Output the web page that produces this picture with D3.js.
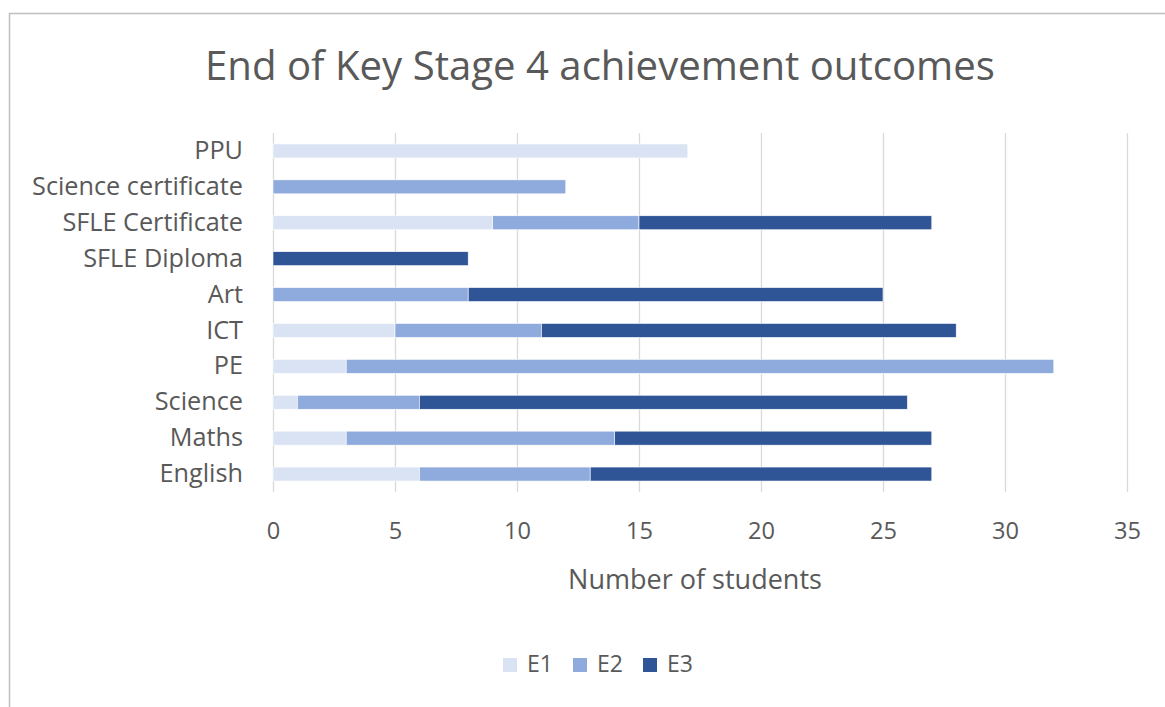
<!DOCTYPE html>
<html><head><meta charset="utf-8">
<script src="https://cdn.jsdelivr.net/npm/d3@7"></script>
<style>
html,body{margin:0;padding:0;background:#fff;}
svg{display:block;font-family:"Open Sans",sans-serif;}
</style></head>
<body>
<svg id="chart" width="1165" height="707"></svg>
<script>
const categories = ["English","Maths","Science","PE","ICT","Art","SFLE Diploma","SFLE Certificate","Science certificate","PPU"];
const seriesNames = ["E1","E2","E3"];
const E1 = [6,3,1,3,5,0,0,9,0,17];
const E2 = [7,11,5,29,6,8,0,6,12,0];
const E3 = [14,13,20,0,17,17,8,12,0,0];
const xTicks = [0,5,10,15,20,25,30,35];
const title = "End of Key Stage 4 achievement outcomes";
const xTitle = "Number of students";
const colors = ["#dae3f3","#8faadc","#2f5597"];

const svg = d3.select("#chart");
const textColor = "#595959";

svg.append("path").attr("d","M9.5,712 L9.5,13.5 L1170,13.5")
  .attr("fill","none").attr("stroke","#bfbfbf").attr("stroke-width",1.5);

function fit(sel, target){
  let fs = parseFloat(sel.attr("font-size"));
  const w = sel.node().getComputedTextLength();
  sel.attr("font-size", (fs*target/w).toFixed(2));
}
function fitSize(sample, target){
  const tmp = svg.append("text").attr("font-size",20).attr("font-family","Open Sans").text(sample);
  const w = tmp.node().getComputedTextLength();
  tmp.remove();
  return 20*target/w;
}

const m = {left:273, right:1127, top:133, bottom:492};
const x = d3.scaleLinear().domain([0,35]).range([m.left,m.right]);
const y = d3.scaleBand().domain(categories.slice().reverse()).range([m.top,m.bottom]).paddingInner(0.61).paddingOuter(0.305);

const t = svg.append("text").attr("x",600).attr("y",80).attr("text-anchor","middle")
  .attr("fill",textColor).attr("font-size",34).text(title);
fit(t, 790);

svg.append("g").selectAll("line").data(xTicks).join("line")
  .attr("x1",d=>x(d)+0.5).attr("x2",d=>x(d)+0.5).attr("y1",m.top).attr("y2",m.bottom)
  .attr("stroke","#d9d9d9").attr("stroke-width",1.3);

const rows = categories.map((c,i)=>({cat:c,E1:E1[i],E2:E2[i],E3:E3[i]}));
const stack = d3.stack().keys(seriesNames)(rows);
svg.append("g").selectAll("g").data(stack).join("g")
  .attr("fill",(d,i)=>colors[i])
  .selectAll("rect").data(d=>d.filter(p=>p[1]-p[0]>0)).join("rect")
  .attr("x",d=>x(d[0])).attr("width",d=>x(d[1])-x(d[0]))
  .attr("y",d=>y(d.data.cat)).attr("height",y.bandwidth())
  .attr("stroke","#fff").attr("stroke-width",0.6);

const tickFs = fitSize("35", 27);
const catFs = fitSize("Science certificate", 211);

const xAxis = svg.append("g").attr("transform",`translate(0,${m.bottom})`)
  .call(d3.axisBottom(x).tickValues(xTicks).tickSize(0).tickPadding(30));
xAxis.attr("font-size",null).attr("font-family",null);
xAxis.select(".domain").remove();
xAxis.selectAll("text").attr("fill",textColor).style("font-size",tickFs+"px").style("font-family","Open Sans");

const yAxis = svg.append("g").attr("transform",`translate(${m.left},0)`)
  .call(d3.axisLeft(y).tickSize(0).tickPadding(30));
yAxis.attr("font-size",null).attr("font-family",null);
yAxis.select(".domain").remove();
yAxis.selectAll("text").attr("fill",textColor).style("font-size",catFs+"px").style("font-family","Open Sans");

const at = svg.append("text").attr("x",695).attr("y",589).attr("text-anchor","middle")
  .attr("fill",textColor).attr("font-size",20).text(xTitle);
fit(at, 254);

const legFs = fitSize("E1", 26);
const legX = [503,573,643];
const leg = svg.append("g").selectAll("g").data(seriesNames).join("g")
  .attr("transform",(d,i)=>`translate(${legX[i]},658)`);
leg.append("rect").attr("width",14).attr("height",14).attr("fill",(d,i)=>colors[i]);
leg.append("text").attr("x",24).attr("y",14).attr("fill",textColor).attr("font-size",legFs).text(d=>d);
</script>
</body></html>
